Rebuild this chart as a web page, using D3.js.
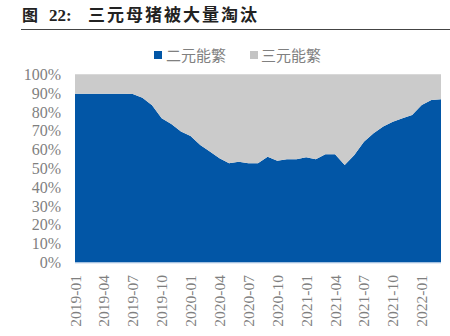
<!DOCTYPE html>
<html>
<head>
<meta charset="utf-8">
<script src="https://cdn.jsdelivr.net/npm/d3@7/dist/d3.min.js"></script>
<style>
  html, body { margin: 0; padding: 0; background: #ffffff; }
  svg { display: block; }
</style>
</head>
<body>
<svg id="chart" width="450" height="336"></svg>
<script>
// Monthly categories, 2019-01 .. 2022-03
const months = [
  "2019-01","2019-02","2019-03","2019-04","2019-05","2019-06","2019-07","2019-08","2019-09","2019-10","2019-11","2019-12",
  "2020-01","2020-02","2020-03","2020-04","2020-05","2020-06","2020-07","2020-08","2020-09","2020-10","2020-11","2020-12",
  "2021-01","2021-02","2021-03","2021-04","2021-05","2021-06","2021-07","2021-08","2021-09","2021-10","2021-11","2021-12",
  "2022-01","2022-02","2022-03"
];

// Share of two-way crossbred sows (%)
const erYuan = [
  89.6, 89.6, 89.6, 89.6, 89.6, 89.6, 89.5, 87.6, 83.5, 76.6, 73.6, 69.6,
  67.2, 62.4, 59.0, 55.4, 52.7, 53.6, 52.8, 52.8, 56.2, 54.1, 54.8, 54.8,
  55.9, 54.9, 57.5, 57.5, 51.8, 57.1, 64.2, 68.7, 72.2, 74.8, 76.6, 78.4,
  83.7, 86.3, 86.7
];

// Share of three-way crossbred sows (%)
const sanYuan = [
  10.4, 10.4, 10.4, 10.4, 10.4, 10.4, 10.5, 12.4, 16.5, 23.4, 26.4, 30.4,
  32.8, 37.6, 41.0, 44.6, 47.3, 46.4, 47.2, 47.2, 43.8, 45.9, 45.2, 45.2,
  44.1, 45.1, 42.5, 42.5, 48.2, 42.9, 35.8, 31.3, 27.8, 25.2, 23.4, 21.6,
  16.3, 13.7, 13.3
];

const seriesNames = ["二元能繁", "三元能繁"];
const yTicks = [0, 10, 20, 30, 40, 50, 60, 70, 80, 90, 100];
const xTickLabels = ["2019-01","2019-04","2019-07","2019-10","2020-01","2020-04","2020-07","2020-10",
                     "2021-01","2021-04","2021-07","2021-10","2022-01"];

const colors = { "二元能繁": "#0256a6", "三元能繁": "#cbcbcb" };

const svg = d3.select("#chart");

// Title block
svg.append("text")
  .attr("x", 22).attr("y", 21)
  .attr("font-family", "'Noto Sans CJK SC', sans-serif")
  .attr("font-weight", "bold")
  .attr("font-size", 16)
  .attr("fill", "#222")
  .text("图");
svg.append("text")
  .attr("x", 49).attr("y", 21)
  .attr("font-family", "'Liberation Serif', serif")
  .attr("font-weight", "bold")
  .attr("font-size", 17)
  .attr("fill", "#222")
  .text("22:");
svg.append("text")
  .attr("x", 88).attr("y", 21)
  .attr("font-family", "'Noto Sans CJK SC', sans-serif")
  .attr("font-weight", "bold")
  .attr("font-size", 17)
  .attr("letter-spacing", 2)
  .attr("fill", "#222")
  .text("三元母猪被大量淘汰");
svg.append("line")
  .attr("x1", 21).attr("x2", 450)
  .attr("y1", 29.5).attr("y2", 29.5)
  .attr("stroke", "#444").attr("stroke-width", 1);

// Scales
const x = d3.scalePoint().domain(months).range([75, 441]);
const y = d3.scaleLinear().domain([0, 100]).range([262.5, 74.3]);

// Stacked data
const rows = months.map((m, i) => ({ month: m, "二元能繁": erYuan[i], "三元能繁": sanYuan[i] }));
const stacked = d3.stack().keys(seriesNames)(rows);

const area = d3.area()
  .x(d => x(d.data.month))
  .y0(d => y(d[0]))
  .y1(d => y(d[1]));

svg.append("g")
  .selectAll("path")
  .data(stacked)
  .join("path")
  .attr("d", area)
  .attr("fill", d => colors[d.key]);

// Baseline
svg.append("line")
  .attr("x1", 75).attr("x2", 441)
  .attr("y1", y(0) + 0.5).attr("y2", y(0) + 0.5)
  .attr("stroke", "#c9d9ee").attr("stroke-width", 1);

// Y axis
const yAxis = d3.axisLeft(y)
  .tickValues(yTicks)
  .tickFormat(d => d + "%")
  .tickSize(0)
  .tickPadding(14);
const gy = svg.append("g").attr("transform", "translate(75,0)").call(yAxis);
gy.select(".domain").remove();
gy.selectAll("text")
  .attr("font-family", "'Liberation Serif', serif")
  .attr("font-size", 16)
  .attr("fill", "#7f7f7f");

// X axis
const xAxis = d3.axisBottom(x)
  .tickValues(xTickLabels)
  .tickSize(0)
  .tickPadding(0);
const gx = svg.append("g").attr("transform", `translate(0,${y(0)})`).call(xAxis);
gx.select(".domain").remove();
gx.selectAll("text")
  .attr("font-family", "'Liberation Serif', serif")
  .attr("font-size", 15.5)
  .attr("fill", "#7f7f7f")
  .attr("text-anchor", "end")
  .attr("dy", null)
  .attr("transform", "translate(5,12.5) rotate(-90)");

// Legend
const legendItems = [
  { name: "二元能繁", sx: 154, tx: 166, color: "#0256a6" },
  { name: "三元能繁", sx: 250, tx: 261, color: "#c4c4c4" }
];
const lg = svg.append("g");
lg.selectAll("rect")
  .data(legendItems)
  .join("rect")
  .attr("x", d => d.sx).attr("y", 51)
  .attr("width", 8).attr("height", 8)
  .attr("fill", d => d.color);
lg.selectAll("text")
  .data(legendItems)
  .join("text")
  .attr("x", d => d.tx).attr("y", 61)
  .attr("font-family", "'Noto Sans CJK SC', sans-serif")
  .attr("font-size", 15)
  .attr("fill", "#808080")
  .text(d => d.name);
</script>
</body>
</html>
